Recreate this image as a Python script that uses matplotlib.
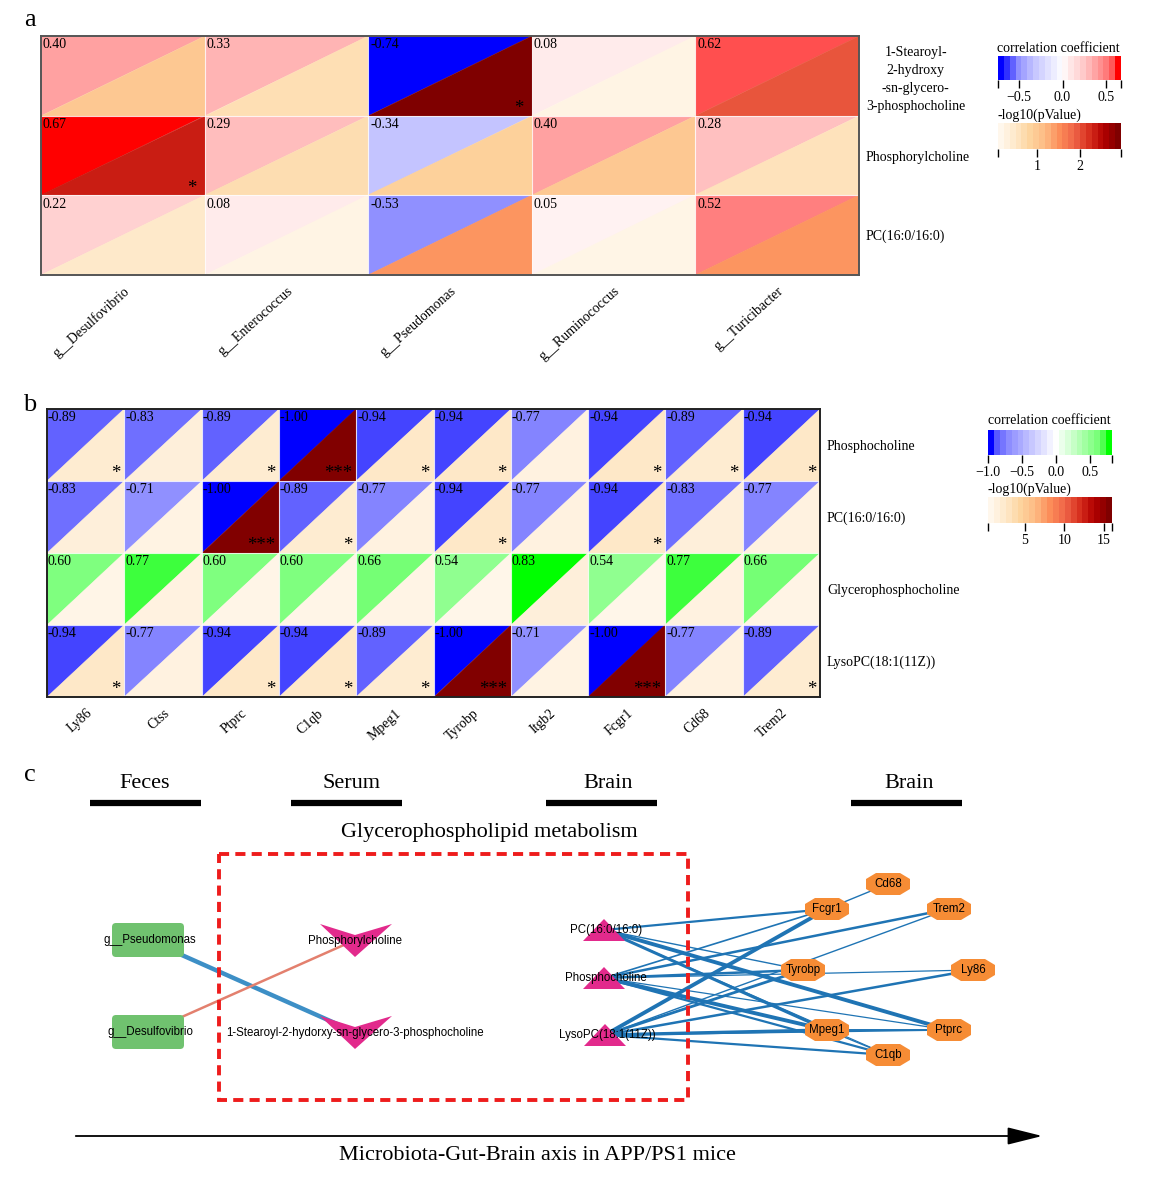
import numpy as np
import matplotlib
matplotlib.use('Agg')
import matplotlib.pyplot as plt
from matplotlib.collections import PolyCollection
from matplotlib.colors import LinearSegmentedColormap, Normalize
from matplotlib.patches import Polygon, FancyBboxPatch, Rectangle
from matplotlib.cm import ScalarMappable

plt.rcParams['font.family'] = ['Liberation Serif', 'DejaVu Serif']

W, H = 1155, 1177

# ---------------- panel a: genera vs serum metabolites
a_genera = ['g__Desulfovibrio', 'g__Enterococcus', 'g__Pseudomonas',
            'g__Ruminococcus', 'g__Turicibacter']
a_metabolites = ['1-Stearoyl-\n2-hydroxy\n-sn-glycero-\n3-phosphocholine',
                 'Phosphorylcholine', 'PC(16:0/16:0)']
a_corr = [[0.40, 0.33, -0.74, 0.08, 0.62],
          [0.67, 0.29, -0.34, 0.40, 0.28],
          [0.22, 0.08, -0.53, 0.05, 0.52]]
a_logp = [[0.98, 0.62, 2.95, 0.17, 1.98],
          [2.38, 0.64, 0.86, 0.98, 0.56],
          [0.43, 0.17, 1.46, 0.15, 1.46]]
a_stars = [['', '', '*', '', ''],
           ['*', '', '', '', ''],
           ['', '', '', '', '']]

# ---------------- panel b: brain metabolites vs genes
b_genes = ['Ly86', 'Ctss', 'Ptprc', 'C1qb', 'Mpeg1',
           'Tyrobp', 'Itgb2', 'Fcgr1', 'Cd68', 'Trem2']
b_metabolites = ['Phosphocholine', 'PC(16:0/16:0)',
                 'Glycerophosphocholine', 'LysoPC(18:1(11Z))']
b_corr = [[-0.89, -0.83, -0.89, -1.00, -0.94, -0.94, -0.77, -0.94, -0.89, -0.94],
          [-0.83, -0.71, -1.00, -0.89, -0.77, -0.94, -0.77, -0.94, -0.83, -0.77],
          [0.60, 0.77, 0.60, 0.60, 0.66, 0.54, 0.83, 0.54, 0.77, 0.66],
          [-0.94, -0.77, -0.94, -0.94, -0.89, -1.00, -0.71, -1.00, -0.77, -0.89]]
b_logp = [[1.9, 1.4, 1.9, 15.9, 2.4, 2.4, 1.1, 2.4, 1.9, 2.4],
          [1.4, 0.9, 15.9, 1.9, 1.1, 2.4, 1.1, 2.4, 1.4, 1.1],
          [0.7, 1.1, 0.7, 0.7, 0.8, 0.6, 1.4, 0.6, 1.1, 0.8],
          [2.4, 1.1, 2.4, 2.4, 1.9, 15.9, 0.9, 15.9, 1.1, 1.9]]
b_stars = [['*', '', '*', '***', '*', '*', '', '*', '*', '*'],
           ['', '', '***', '*', '', '*', '', '*', '', ''],
           ['', '', '', '', '', '', '', '', '', ''],
           ['*', '', '*', '*', '*', '***', '', '***', '', '*']]

# colour ramps (value, share of white)
a_ramp = [(-0.74, 0.0), (-0.53, 0.565), (-0.34, 0.77), (0.0, 1.0), (0.08, 0.92),
          (0.22, 0.82), (0.29, 0.745), (0.33, 0.71), (0.40, 0.63), (0.52, 0.5),
          (0.62, 0.31), (0.67, 0.0)]
b_ramp = [(-1.0, 0.0), (-0.94, 0.28), (-0.89, 0.39), (-0.83, 0.44), (-0.77, 0.52),
          (-0.71, 0.565), (0.0, 1.0), (0.54, 0.57), (0.60, 0.5), (0.66, 0.47),
          (0.77, 0.25), (0.83, 0.0)]

# ---------------- panel c: network
c_headers = ['Feces', 'Serum', 'Brain', 'Brain']
c_genera = ['g__Pseudomonas', 'g__Desulfovibrio']
c_serum = ['Phosphorylcholine', '1-Stearoyl-2-hydorxy-sn-glycero-3-phosphocholine']
c_brain = ['PC(16:0/16:0)', 'Phosphocholine', 'LysoPC(18:1(11Z))']
c_genes = ['Fcgr1', 'Cd68', 'Trem2', 'Tyrobp', 'Ly86', 'Mpeg1', 'Ptprc', 'C1qb']
# (source, target, sign, weight)
c_gut_edges = [('g__Pseudomonas', '1-Stearoyl-2-hydorxy-sn-glycero-3-phosphocholine', -1, 3.2),
               ('g__Desulfovibrio', 'Phosphorylcholine', 1, 1.8)]
c_brain_edges = [('PC(16:0/16:0)', 'Fcgr1', 1.6), ('PC(16:0/16:0)', 'Tyrobp', 1.0),
                 ('PC(16:0/16:0)', 'Mpeg1', 2.2), ('PC(16:0/16:0)', 'Ptprc', 2.8),
                 ('PC(16:0/16:0)', 'C1qb', 0.8),
                 ('Phosphocholine', 'Fcgr1', 1.2), ('Phosphocholine', 'Trem2', 1.8),
                 ('Phosphocholine', 'Tyrobp', 1.8), ('Phosphocholine', 'Ly86', 0.9),
                 ('Phosphocholine', 'Mpeg1', 2.8), ('Phosphocholine', 'Ptprc', 0.9),
                 ('Phosphocholine', 'C1qb', 1.6),
                 ('LysoPC(18:1(11Z))', 'Fcgr1', 2.8), ('LysoPC(18:1(11Z))', 'Tyrobp', 2.0),
                 ('LysoPC(18:1(11Z))', 'Trem2', 1.0), ('LysoPC(18:1(11Z))', 'Ly86', 1.8),
                 ('LysoPC(18:1(11Z))', 'Mpeg1', 2.4), ('LysoPC(18:1(11Z))', 'Ptprc', 1.0),
                 ('LysoPC(18:1(11Z))', 'C1qb', 1.6),
                 ('Fcgr1', 'Cd68', 1.0), ('Mpeg1', 'Ptprc', 1.4), ('Mpeg1', 'C1qb', 1.0)]

# layout of the network (pixel positions)
layout = {'g__Pseudomonas': (148, 940), 'g__Desulfovibrio': (148, 1032),
          'Phosphorylcholine': (355, 940),
          '1-Stearoyl-2-hydorxy-sn-glycero-3-phosphocholine': (355, 1032),
          'PC(16:0/16:0)': (604, 930), 'Phosphocholine': (604, 978),
          'LysoPC(18:1(11Z))': (605, 1035),
          'Fcgr1': (827, 909), 'Cd68': (888, 884), 'Trem2': (949, 909),
          'Tyrobp': (803, 970), 'Ly86': (973, 970), 'Mpeg1': (827, 1030),
          'Ptprc': (949, 1030), 'C1qb': (888, 1055)}


def px_axes(fig, x0, y0, x1, y1):
    return fig.add_axes([x0 / W, 1 - y1 / H, (x1 - x0) / W, (y1 - y0) / H])


def ramp_cmap(ramp, neg_rgb, pos_rgb):
    vmin, vmax = ramp[0][0], ramp[-1][0]
    nodes = []
    for v, f in ramp:
        base = neg_rgb if v < 0 else pos_rgb
        nodes.append(((v - vmin) / (vmax - vmin), tuple(b + f * (1 - b) for b in base)))
    return LinearSegmentedColormap.from_list('ramp', nodes), Normalize(vmin, vmax)


def tri_heatmap(ax, corr, logp, stars, rows, cols, cmap, norm, pnorm, frame):
    corr = np.asarray(corr)
    logp = np.asarray(logp)
    nrow, ncol = corr.shape
    upper, lower = [], []
    for r in range(nrow):
        for c in range(ncol):
            upper.append([(c, r), (c + 1, r), (c, r + 1)])
            lower.append([(c + 1, r), (c + 1, r + 1), (c, r + 1)])
    ax.add_collection(PolyCollection(upper, array=corr.ravel(), cmap=cmap, norm=norm,
                                     edgecolors='face', linewidths=0.3))
    ax.add_collection(PolyCollection(lower, array=logp.ravel(), cmap='OrRd', norm=pnorm,
                                     edgecolors='face', linewidths=0.3))
    for k in range(1, ncol):
        ax.axvline(k, color='white', lw=0.8, alpha=0.8)
    for k in range(1, nrow):
        ax.axhline(k, color='white', lw=0.8, alpha=0.8)
    for r in range(nrow):
        for c in range(ncol):
            ax.text(c + 0.012, r + 0.03, f'{corr[r, c]:.2f}', ha='left', va='top', fontsize=10)
            if stars[r][c]:
                ax.text(c + 0.95, r + 1.02, stars[r][c], ha='right', va='bottom', fontsize=13.5)
    ax.set_xlim(0, ncol)
    ax.set_ylim(nrow, 0)
    ax.set_xticks(np.arange(ncol) + 0.5)
    ax.set_xticklabels(cols, rotation=42, ha='right', va='top', rotation_mode='anchor', fontsize=10)
    ax.set_yticks(np.arange(nrow) + 0.5)
    ax.yaxis.tick_right()
    ax.set_yticklabels(rows, fontsize=10)
    for t in ax.get_yticklabels():
        t.set_multialignment('center')
        t.set_linespacing(1.5)
    ax.tick_params(length=0, pad=5)
    ax.tick_params(axis='x', pad=7)
    for s in ax.spines.values():
        s.set_color(frame)
        s.set_linewidth(1.4)


def colorbar(fig, box, cmap, norm, ticks, labels, nsteps):
    cax = px_axes(fig, *box)
    sm = ScalarMappable(norm=norm, cmap=cmap.resampled(nsteps))
    cb = fig.colorbar(sm, cax=cax, orientation='horizontal')
    cb.outline.set_visible(False)
    cb.set_ticks(ticks)
    cb.set_ticklabels(labels)
    cax.tick_params(length=6, width=1, labelsize=10, pad=2)
    return cb


fig = plt.figure(figsize=(W / 100, H / 100), dpi=100)

# background axes in pixel units (panel c and loose text)
axc = fig.add_axes([0, 0, 1, 1])
axc.set_xlim(0, W)
axc.set_ylim(H, 0)
axc.axis('off')

for lab, y in zip(['a', 'b', 'c'], [20, 405, 775]):
    axc.text(30, y, lab, fontsize=19, ha='center', va='center')

# ---- panel a
a_cmap, a_norm = ramp_cmap(a_ramp, (0, 0, 1), (1, 0, 0))
a_pnorm = Normalize(0.09, 2.95)
ax_a = px_axes(fig, 41, 36, 859, 275)
tri_heatmap(ax_a, a_corr, a_logp, a_stars, a_metabolites, a_genera,
            a_cmap, a_norm, a_pnorm, '#555555')
axc.text(997, 48, 'correlation coefficient', fontsize=10, va='center')
colorbar(fig, (998, 56, 1121, 80), a_cmap, a_norm, [-0.74, -0.5, 0, 0.5, 0.67],
         ['', '\u22120.5', '0.0', '0.5', ''], 21)
axc.text(997, 115, '-log10(pValue)', fontsize=10, va='center')
colorbar(fig, (998, 123, 1121, 149), plt.get_cmap('OrRd'), a_pnorm, [0.09, 1, 2, 2.95],
         ['', '1', '2', ''], 21)

# ---- panel b
b_cmap, b_norm = ramp_cmap(b_ramp, (0, 0, 1), (0, 1, 0))
b_pnorm = Normalize(0.4, 16)
ax_b = px_axes(fig, 47, 409, 820, 697)
tri_heatmap(ax_b, b_corr, b_logp, b_stars, b_metabolites, b_genes,
            b_cmap, b_norm, b_pnorm, '#222222')
axc.text(988, 421, 'correlation coefficient', fontsize=10, va='center')
colorbar(fig, (988, 430, 1112, 455), b_cmap, b_norm, [-1.0, -0.5, 0, 0.5, 0.83],
         ['\u22121.0', '\u22120.5', '0.0', '0.5', ''], 21)
axc.text(988, 489, '-log10(pValue)', fontsize=10, va='center')
colorbar(fig, (988, 497, 1112, 523), plt.get_cmap('OrRd'), b_pnorm, [0.4, 5, 10, 15, 16],
         ['', '5', '10', '15', ''], 21)

# ---- panel c
for name, x0, xb in zip(c_headers, [145, 352, 608, 909], [145.5, 346, 601.5, 906]):
    axc.text(x0, 784, name, fontsize=16, ha='center', va='center')
    axc.plot([xb - 55.5, xb + 55.5], [803, 803], color='black', lw=4.5, solid_capstyle='butt')
axc.text(489, 833, 'Glycerophospholipid metabolism', fontsize=16, ha='center', va='center')
axc.add_patch(Rectangle((219, 854), 469, 246, fill=False, edgecolor='#EE1C1C',
                        lw=2.8, ls=(0, (2.6, 1.6)), zorder=3))
axc.annotate('', xy=(1045, 1136), xytext=(73, 1136),
             arrowprops=dict(arrowstyle='-|>,head_length=1.2,head_width=0.3',
                             color='black', lw=1.3, mutation_scale=18))
axc.text(537, 1156, 'Microbiota-Gut-Brain axis in APP/PS1 mice', fontsize=16,
         ha='center', va='center')

sans = 'Liberation Sans'
fs = 8.3
for s, t, sign, w in c_gut_edges:
    (x1, y1), (x2, y2) = layout[s], layout[t]
    axc.plot([x1, x2], [y1, y2], color='#3D8FC6' if sign < 0 else '#E3806E',
             lw=w, zorder=1, solid_capstyle='butt')
for s, t, w in c_brain_edges:
    (x1, y1), (x2, y2) = layout[s], layout[t]
    axc.plot([x1, x2], [y1, y2], color='#1F74B4', lw=w, zorder=1)

for name in c_genera:
    x, y = layout[name]
    axc.add_patch(FancyBboxPatch((x - 32, y - 13), 64, 26, boxstyle='round,pad=4',
                                 fc='#70C26F', ec='none', zorder=4))
    axc.text(x + 2, y, name, family=sans, fontsize=fs, ha='center', va='center', zorder=6)
for name in c_serum:
    x, y = layout[name]
    axc.add_patch(Polygon([(x - 35, y - 16), (x, y - 5), (x + 37, y - 16), (x, y + 17)],
                          closed=True, fc='#E22A8C', ec='none', zorder=4))
    axc.text(x, y + 1, name, family=sans, fontsize=fs, ha='center', va='center', zorder=6)
for name in c_brain:
    x, y = layout[name]
    axc.add_patch(Polygon([(x - 21, y + 11), (x + 21, y + 11), (x, y - 11)],
                          closed=True, fc='#E22A8C', ec='none', zorder=4))
    axc.text(x + 2, y, name, family=sans, fontsize=fs, ha='center', va='center', zorder=6)
for name in c_genes:
    x, y = layout[name]
    octo = [(-22, -5), (-12, -11), (12, -11), (22, -5), (22, 5), (12, 11), (-12, 11), (-22, 5)]
    axc.add_patch(Polygon([(x + dx, y + dy) for dx, dy in octo], closed=True,
                          fc='#F68C35', ec='none', zorder=4))
    axc.text(x, y, name, family=sans, fontsize=fs, ha='center', va='center', zorder=6)

plt.savefig('out.png', dpi=100)
